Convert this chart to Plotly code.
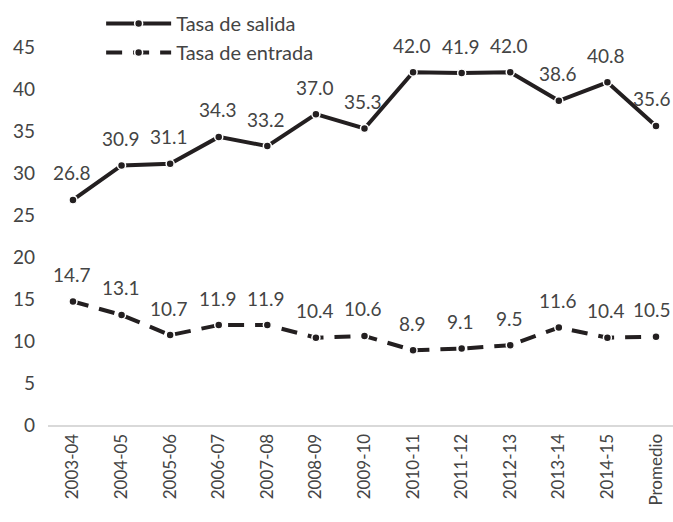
import plotly.graph_objects as go

categories = ["2003-04", "2004-05", "2005-06", "2006-07", "2007-08", "2008-09",
              "2009-10", "2010-11", "2011-12", "2012-13", "2013-14", "2014-15", "Promedio"]
tasa_salida = [26.8, 30.9, 31.1, 34.3, 33.2, 37.0, 35.3, 42.0, 41.9, 42.0, 38.6, 40.8, 35.6]
tasa_entrada = [14.7, 13.1, 10.7, 11.9, 11.9, 10.4, 10.6, 8.9, 9.1, 9.5, 11.6, 10.4, 10.5]
y_ticks = [0, 5, 10, 15, 20, 25, 30, 35, 40, 45]

FONT = "Lato"
TXT = "#444444"
LINE = "#231f20"

fig = go.Figure()
fig.add_trace(go.Scatter(
    x=categories, y=tasa_salida, name="Tasa de salida",
    mode="lines+markers",
    line=dict(color=LINE, width=4),
    marker=dict(color=LINE, size=8, line=dict(color="white", width=1.5)),
))
fig.add_trace(go.Scatter(
    x=categories, y=tasa_entrada, name="Tasa de entrada",
    mode="lines+markers",
    line=dict(color=LINE, width=4, dash="16px,11px"),
    marker=dict(color=LINE, size=8, line=dict(color="white", width=1.5)),
))

last = categories[-1]
for series in (tasa_salida, tasa_entrada):
    for c, v in zip(categories, series):
        fig.add_annotation(x=c, y=v, text=f"{v:.1f}", showarrow=False,
                           yshift=27, xshift=(-4 if c == last else -1),
                           borderpad=0,
                           font=dict(family=FONT, size=19, color=TXT))

fig.update_layout(
    width=673, height=522,
    margin=dict(l=48, r=0, t=5, b=97),
    paper_bgcolor="white", plot_bgcolor="white",
    font=dict(family=FONT, size=18, color=TXT),
    showlegend=True,
    legend=dict(x=0.085, y=1.0025, xanchor="left", yanchor="top",
                bgcolor="rgba(0,0,0,0)", itemwidth=65,
                font=dict(family=FONT, size=20, color=TXT)),
    xaxis=dict(type="category", range=[-0.514, 12.35], showgrid=False,
               showline=True, linecolor="#d9d9d9", linewidth=2,
               ticks="", tickangle=-90,
               tickfont=dict(family=FONT, size=17, color=TXT)),
    yaxis=dict(range=[0, 50], tickvals=y_ticks, showgrid=False, zeroline=False,
               showline=False, ticks="", ticklabelstandoff=12,
               tickfont=dict(family=FONT, size=19, color=TXT)),
)

fig.write_html("out.html", config={"displayModeBar": False},
               post_script="document.body.style.margin='0';")
